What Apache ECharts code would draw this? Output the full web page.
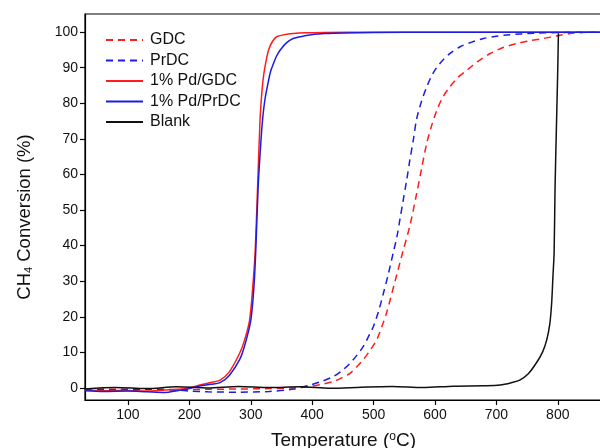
<!DOCTYPE html>
<html>
<head>
<meta charset="utf-8">
<script src="https://cdn.jsdelivr.net/npm/echarts@6/dist/echarts.min.js"></script>
<style>html,body{margin:0;padding:0;background:#fff}#c{width:600px;height:448px}</style>
</head>
<body>
<div id="c"></div>
<script>
// ---- data (temperature in °C, conversion in %) ----
const seriesNames = ['GDC', 'PrDC', '1% Pd/GDC', '1% Pd/PrDC', 'Blank'];
const xTicks = [100, 200, 300, 400, 500, 600, 700, 800];
const yTicks = [0, 10, 20, 30, 40, 50, 60, 70, 80, 90, 100];

const gdcT = [30, 80, 130, 180, 230, 280, 330, 370, 396, 415, 434.5, 448, 461.6, 472, 483, 494, 505, 513, 521, 535, 548, 559, 570, 578, 586.5, 595, 603, 612, 624, 637, 652, 670, 690, 710, 733, 755, 776, 800, 820, 840, 869];
const gdcV = [-0.3, -0.4, -0.3, -0.5, -0.4, -0.3, -0.2, 0.0, 0.4, 1.0, 1.8, 2.8, 4.1, 5.8, 7.9, 10.5, 13.5, 17, 21, 30, 38.5, 45.5, 54.5, 61.5, 68.7, 74, 78, 81.5, 84.6, 87.2, 89.3, 91.8, 94, 95.6, 96.8, 97.6, 98.2, 99.0, 99.6, 99.9, 100];

const prdcT = [30, 80, 130, 180, 200, 230, 280, 330, 370, 396, 415, 434.5, 448, 461.6, 472, 483, 491, 499.5, 508, 516, 524, 532, 538, 543, 548, 554, 559, 565, 570, 578, 586.5, 597, 608, 623, 641, 660, 679, 697, 717, 740, 760, 800, 869];
const prdcV = [-0.4, -0.5, -0.4, -0.6, -0.9, -1.1, -1.2, -1.0, -0.3, 0.8, 1.8, 3.2, 4.8, 6.9, 9.0, 11.6, 14.2, 17.2, 21.5, 26.6, 32, 38, 42.5, 47.5, 52.5, 58.5, 64, 70, 75.5, 80.5, 84.6, 88.5, 91.2, 93.8, 95.9, 97.2, 98.2, 98.8, 99.2, 99.5, 99.7, 99.9, 100];

const pdGdcT = [30, 60, 100, 130, 160, 180, 200, 217, 235, 250, 265, 282, 290, 298, 303, 307, 311, 315, 318, 321, 325, 329, 335, 342, 355, 369, 390, 420, 500, 600, 700, 800, 869];
const pdGdcV = [-0.6, -0.8, -0.7, -0.9, -0.6, -0.4, 0.0, 0.8, 1.5, 2.2, 4.5, 9.8, 13.5, 19, 28, 38, 56, 75, 83, 88, 92, 95, 97.3, 98.7, 99.3, 99.6, 99.8, 99.9, 100, 100, 100, 100, 100];

const pdPrdcT = [30, 60, 100, 130, 160, 180, 200, 217, 235, 250, 265, 282, 291, 300, 305, 308, 312, 316, 319, 323, 328, 332, 337, 342, 348, 358, 369, 383, 396, 420, 500, 600, 700, 800, 869];
const pdPrdcV = [-0.8, -1.0, -0.9, -1.1, -1.3, -0.8, -0.2, 0.5, 1.0, 1.5, 3.5, 8, 12.5, 19, 28, 38, 56.5, 68, 75, 81, 85.6, 88.8, 91.2, 93.3, 95, 97, 98.2, 98.8, 99.2, 99.6, 99.9, 100, 100, 100, 100];

const blankT = [30, 80, 130, 180, 230, 280, 330, 380, 430, 480, 530, 580, 630, 680, 706, 725, 738, 752, 765, 775, 782, 787, 790, 792, 794, 795.5, 798, 800, 801];
const blankV = [-0.3, 0.1, -0.2, 0.3, 0.0, 0.4, 0.1, 0.3, -0.1, 0.2, 0.4, 0.1, 0.5, 0.6, 0.8, 1.5, 2.2, 4, 7, 10, 13.5, 18, 23.8, 31, 38, 56, 75, 90, 99.7];

const zip = (t, v) => t.map((x, i) => [x, v[i]]);

const RED = '#ff1c1c', BLUE = '#1c1ce6', BLACK = '#111111';
const FONT = '"Liberation Sans", Arial, sans-serif';

function line(name, t, v, color, dashed) {
  return {
    name, type: 'line', data: zip(t, v), symbol: 'none', smooth: 0.3,
    lineStyle: { color, width: 1.5, type: dashed ? [7, 5] : 'solid' },
    itemStyle: { color }, emphasis: { disabled: true }
  };
}

const chart = echarts.init(document.getElementById('c'), null, { renderer: 'canvas' });
chart.setOption({
  animation: false,
  backgroundColor: '#fff',
  textStyle: { fontFamily: FONT },
  grid: { left: 85, right: -2, top: 14, bottom: 48, show: true, borderColor: '#000', borderWidth: 1.2,
          containLabel: false, outerBoundsMode: 'none' },
  legend: {
    data: seriesNames, orient: 'vertical', left: 105, top: 32, padding: 0,
    itemWidth: 37, itemHeight: 16, itemGap: 4.5,
    itemStyle: { opacity: 0 },
    textStyle: { fontSize: 16, color: '#111', fontFamily: FONT, padding: [0, 0, 0, 2] }
  },
  xAxis: {
    type: 'value', min: 30, max: 872,
    name: 'Temperature ({sup|o}C)', nameLocation: 'middle', nameGap: 31,
    nameTextStyle: { fontSize: 19, color: '#111', fontFamily: FONT,
      rich: { sup: { fontSize: 12, verticalAlign: 'top', padding: [0, 0, 8, 0], color: '#111', fontFamily: FONT } } },
    axisLine: { show: true, onZero: false, lineStyle: { color: '#000', width: 1.2 } },
    axisTick: { show: true, inside: false, length: 5, customValues: xTicks, lineStyle: { color: '#000', width: 1.2 } },
    axisLabel: { customValues: xTicks, fontSize: 14, color: '#111', margin: 8, fontFamily: FONT },
    splitLine: { show: false }
  },
  yAxis: {
    type: 'value', min: -3.4, max: 105.1,
    name: 'CH{sub|4} Conversion (%)', nameLocation: 'middle', nameGap: 51, nameRotate: 90,
    nameTextStyle: { fontSize: 18.5, color: '#111', fontFamily: FONT, padding: [0, 20, 0, 0],
      rich: { sub: { fontSize: 11, verticalAlign: 'bottom', padding: [8, 0, 0, 0], color: '#111', fontFamily: FONT } } },
    axisLine: { show: true, onZero: false, lineStyle: { color: '#000', width: 1.2 } },
    axisTick: { show: true, inside: false, length: 5, customValues: yTicks, lineStyle: { color: '#000', width: 1.2 } },
    axisLabel: { customValues: yTicks, fontSize: 14, color: '#111', margin: 7, fontFamily: FONT },
    splitLine: { show: false }
  },
  series: [
    line(seriesNames[0], gdcT, gdcV, RED, true),
    line(seriesNames[1], prdcT, prdcV, BLUE, true),
    line(seriesNames[2], pdGdcT, pdGdcV, RED, false),
    line(seriesNames[3], pdPrdcT, pdPrdcV, BLUE, false),
    line(seriesNames[4], blankT, blankV, BLACK, false)
  ]
});
</script>
</body>
</html>
